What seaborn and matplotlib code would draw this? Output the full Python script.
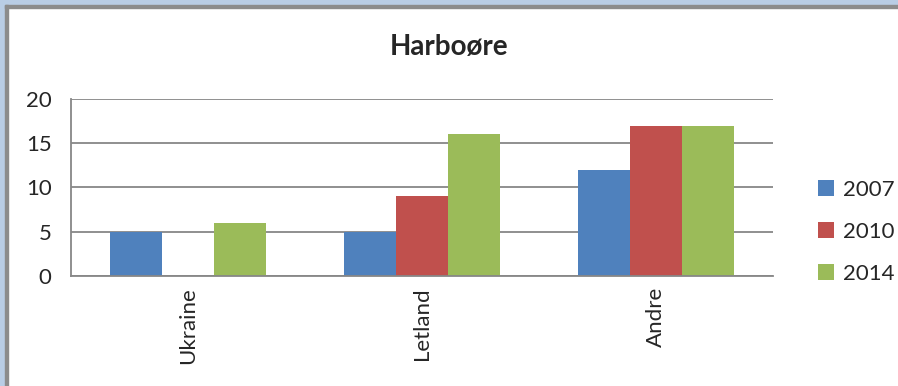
import pandas as pd
import matplotlib.pyplot as plt
import seaborn as sns
from matplotlib.patches import Rectangle

# Data
categories = ['Ukraine', 'Letland', 'Andre']
years = ['2007', '2010', '2014']
v2007 = [5, 5, 12]
v2010 = [0, 9, 17]
v2014 = [6, 16, 17]

df = pd.DataFrame({
    'Kategori': categories * 3,
    'År': [y for y in years for _ in categories],
    'Antal': v2007 + v2010 + v2014,
})

sns.set_style('white')
plt.rcParams['font.family'] = ['Lato', 'DejaVu Sans']

fig = plt.figure(figsize=(8.98, 3.86), dpi=100)
ax = fig.add_axes([0.0791, 0.2850, 0.7817, 0.4585])

palette = ['#4F81BD', '#C0504D', '#9BBB59']
sns.barplot(data=df, x='Kategori', y='Antal', hue='År', palette=palette,
            width=0.667, gap=0, saturation=1, ax=ax, linewidth=0)

ax.set_ylim(0, 20)
ax.set_yticks([0, 5, 10, 15, 20])
ax.yaxis.grid(True, color='#878787', linewidth=1.3)
ax.set_axisbelow(True)
for s in ['top', 'right']:
    ax.spines[s].set_visible(False)
for s in ['left', 'bottom']:
    ax.spines[s].set_color('#878787')
    ax.spines[s].set_linewidth(1.3)
ax.set_xlabel('')
ax.set_ylabel('')
ax.tick_params(axis='x', labelrotation=90, labelsize=16, length=0, pad=8)
ax.tick_params(axis='y', labelsize=16, length=0, pad=14)

ax.legend(loc='center left', bbox_to_anchor=(1.035, 0.25), frameon=False,
          fontsize=16, handlelength=0.75, handleheight=0.75, handletextpad=0.4,
          labelspacing=1.0)

fig.text(0.5, 0.878, 'Harboøre', ha='center', va='center', fontsize=20,
         fontweight='bold')

# outer frame like the spreadsheet chart
fig.patches.append(Rectangle((0, 0.985), 1, 0.015, transform=fig.transFigure,
                             color='#B9CDE5', zorder=0))
fig.patches.append(Rectangle((0, 0), 0.006, 1, transform=fig.transFigure,
                             color='#B9CDE5', zorder=0))
fig.patches.append(Rectangle((0.006, 0.980), 0.994, 0.006, transform=fig.transFigure,
                             color='#8C8C8C', zorder=0))
fig.patches.append(Rectangle((0.006, 0), 0.003, 0.986, transform=fig.transFigure,
                             color='#8C8C8C', zorder=0))

fig.savefig('out.png', dpi=100)
